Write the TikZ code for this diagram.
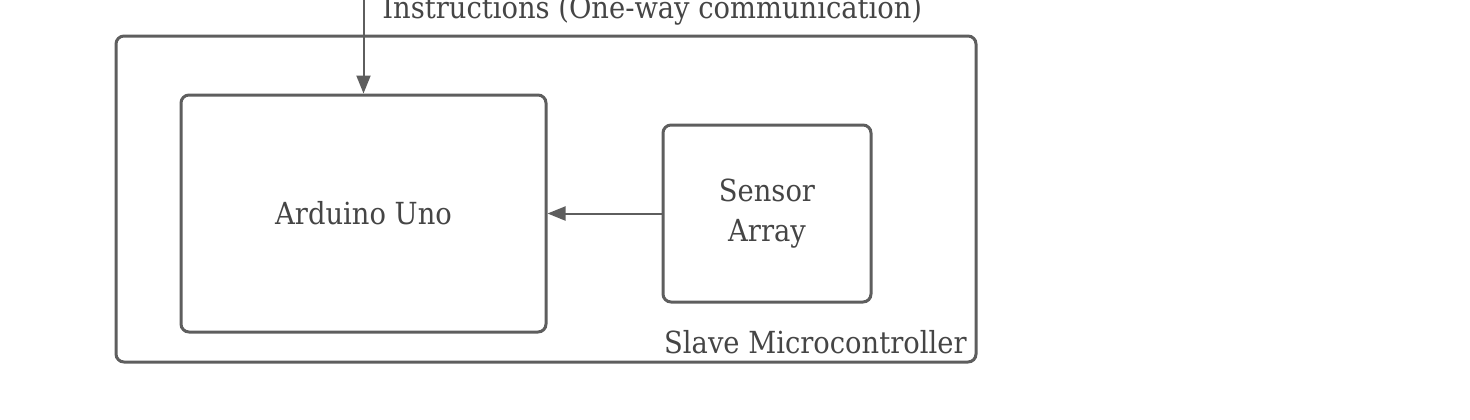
\documentclass[tikz,border=0pt]{standalone}
\usepackage{fontspec}
\setmainfont{DejaVu Serif Condensed}
\usetikzlibrary{arrows.meta,positioning}
\definecolor{linegray}{HTML}{5E5E5E}
\definecolor{textgray}{HTML}{454545}
\tikzset{
  blockbox/.style={draw=linegray, line width=1.5pt, rounded corners=4pt, align=center, text=textgray, font=\fontsize{15.2}{20}\selectfont},
  flow/.style={draw=linegray, line width=1pt, -{Triangle[length=9pt,width=7pt]}},
  tag/.style={text=textgray, font=\fontsize{15.2}{20}\selectfont, inner sep=0pt}
}
\begin{document}
\begin{tikzpicture}[x=0.5pt,y=-0.5pt]
    \useasboundingbox (0,0) rectangle (1470,419);

    % Outer box (the slave microcontroller)
    \node[blockbox, minimum width=430pt, minimum height=163pt] (slave) at (546,199) {};
    \node[tag, anchor=base east] (slavelabel) at (967,353) {Slave Microcontroller};

    % Inner blocks
    \node[blockbox, minimum width=182.5pt, minimum height=118.5pt] (uno) at (363.5,213.5) {Arduino Uno};
    \node[blockbox, minimum width=104pt, minimum height=88.5pt] (sensor) at (767,213.5) {Sensor\\Array};

    % Incoming instructions from above
    \coordinate (top) at (uno.north |- 0,-2);
    \draw[flow] (top) -- (uno.north);
    \node[tag, anchor=base west] (instr) at (382,18) {Instructions (One-way communication)};

    % Sensor data into the Uno
    \draw[flow] (sensor.west) -- (uno.east);
\end{tikzpicture}
\end{document}
